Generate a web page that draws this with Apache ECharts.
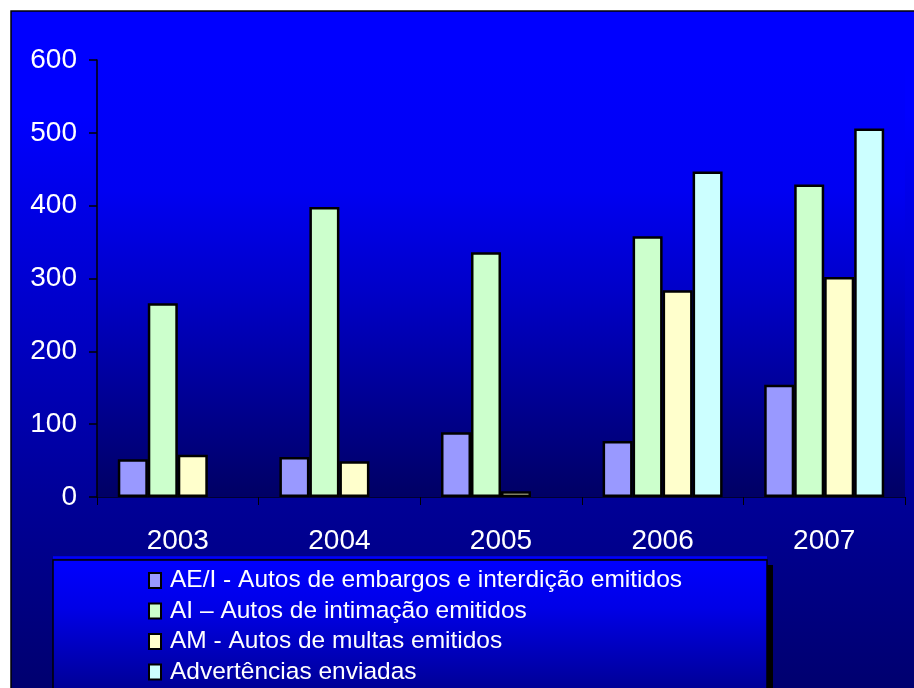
<!DOCTYPE html>
<html>
<head>
<meta charset="utf-8">
<script src="https://cdn.jsdelivr.net/npm/echarts@6/dist/echarts.min.js"></script>
<style>
html,body{margin:0;padding:0;background:#ffffff;}
#chart{width:914px;height:688px;}
</style>
</head>
<body>
<div id="chart"></div>
<script>
const categories = ['2003', '2004', '2005', '2006', '2007'];
const seriesNames = [
  'AE/I - Autos de embargos e interdição emitidos',
  'AI – Autos de intimação emitidos',
  'AM - Autos de multas emitidos',
  'Advertências enviadas'
];
const aeiValues = [52, 55, 89, 77, 154];
const aiValues = [266, 398, 336, 358, 429];
const amValues = [58, 49, 8, 284, 302];
const advValues = [null, null, null, 447, 506];
const yTicks = [0, 100, 200, 300, 400, 500, 600];

const colors = ['#9999ff', '#ccffcc', '#ffffcc', '#ccffff'];
const allValues = [aeiValues, aiValues, amValues, advValues];
const sansFont = "'Liberation Sans', Arial, sans-serif";

const chart = echarts.init(document.getElementById('chart'), null, {renderer: 'canvas'});

const grad = (stops) => new echarts.graphic.LinearGradient(0, 0, 0, 1, stops);

chart.setOption({
  animation: false,
  backgroundColor: '#ffffff',
  graphic: [
    {
      type: 'rect', z: -10, silent: true,
      shape: {x: 11, y: 11, width: 910, height: 690},
      style: {
        fill: grad([
          {offset: 0, color: '#0000ff'},
          {offset: 0.15, color: '#0000ff'},
          {offset: 0.7, color: '#000098'},
          {offset: 1, color: '#00006c'}
        ]),
        stroke: '#000000', lineWidth: 1.5
      }
    },
    {
      type: 'rect', z: 50, silent: true,
      shape: {x: 767, y: 565, width: 6, height: 130},
      style: {fill: '#000000'}
    },
    {
      type: 'rect', z: 51, silent: true,
      shape: {x: 53, y: 560, width: 714, height: 140},
      style: {
        fill: grad([
          {offset: 0, color: '#0000ff'},
          {offset: 0.35, color: '#0000e6'},
          {offset: 1, color: '#00008a'}
        ]),
        stroke: '#000000', lineWidth: 1.5
      }
    },
    {
      type: 'line', z: 52, silent: true,
      shape: {x1: 53, y1: 557.5, x2: 767, y2: 557.5},
      style: {stroke: '#0000ff', lineWidth: 2.5}
    }
  ],
  grid: {
    left: 97, top: 60, right: 9, bottom: 191,
    show: true,
    borderWidth: 0,
    backgroundColor: grad([
      {offset: 0, color: '#0000ff'},
      {offset: 0.3, color: '#0000f2'},
      {offset: 0.55, color: '#0000c4'},
      {offset: 0.8, color: '#00008e'},
      {offset: 1, color: '#000064'}
    ])
  },
  legend: {
    orient: 'vertical',
    left: 148, top: 568,
    padding: 0,
    z: 60,
    itemWidth: 12, itemHeight: 15,
    itemGap: 5.5,
    icon: 'rect',
    data: seriesNames,
    itemStyle: {borderColor: '#000000', borderWidth: 2},
    textStyle: {
      color: '#ffffff', fontSize: 24.5,
      fontFamily: sansFont,
      padding: [0, 0, 0, 4]
    }
  },
  xAxis: {
    type: 'category',
    data: categories,
    axisLine: {show: true, lineStyle: {color: '#000033', width: 1}},
    axisTick: {show: true, length: 8, lineStyle: {color: '#000000', width: 1}},
    axisLabel: {
      color: '#ffffff', fontSize: 28, fontFamily: sansFont, margin: 30
    },
    splitLine: {show: false}
  },
  yAxis: {
    type: 'value',
    min: yTicks[0], max: yTicks[yTicks.length - 1], interval: 100,
    axisLine: {show: true, lineStyle: {color: '#000000', width: 1.5}},
    axisTick: {show: true, length: 8, lineStyle: {color: '#000000', width: 1.5}},
    axisLabel: {
      color: '#ffffff', fontSize: 28, fontFamily: sansFont, margin: 20
    },
    splitLine: {show: false}
  },
  series: seriesNames.map((name, i) => ({
    name: name,
    type: 'bar',
    data: allValues[i],
    barWidth: 30,
    barGap: '0%',
    itemStyle: {color: colors[i], borderColor: '#000000', borderWidth: 2.5}
  }))
});
</script>
</body>
</html>
